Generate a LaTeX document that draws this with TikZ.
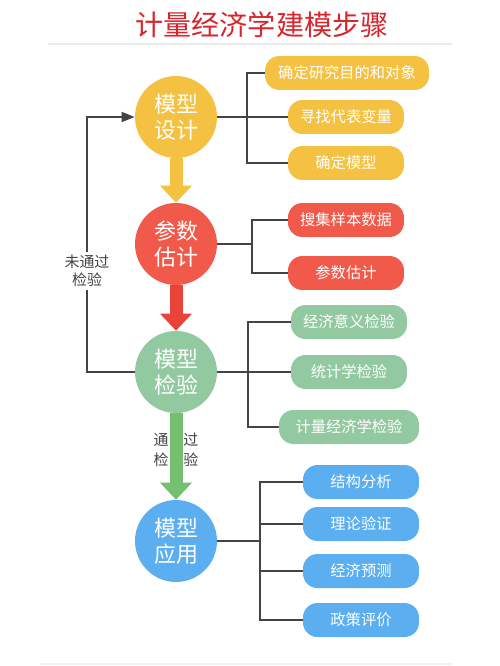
\documentclass[tikz,border=0pt]{standalone}
\usepackage{fontspec}
\setmainfont{Noto Sans CJK SC}
\usetikzlibrary{arrows.meta}

\definecolor{titlered}{HTML}{D8252C}
\definecolor{ylw}{HTML}{F4C143}
\definecolor{rd}{HTML}{F15A4B}
\definecolor{rdarrow}{HTML}{E9433A}
\definecolor{grn}{HTML}{93C9A0}
\definecolor{grnarrow}{HTML}{74BF70}
\definecolor{blu}{HTML}{5BAEEF}
\definecolor{linegray}{HTML}{444444}

\tikzset{
  elbow/.style={to path={|- (\tikztotarget)}},
  blockarrow/.style={line width=0.26cm,
    -{Triangle[length=0.34cm,width=0.64cm,line width=0pt]}},
}

\begin{document}
\begin{tikzpicture}[x=0.02cm,y=-0.02cm]
        \useasboundingbox (0,0) rectangle (500,666);

        \node[text=titlered, font=\fontsize{16}{18}\selectfont] (title) at (262,25) {计量经济学建模步骤};
        \draw[black!8, line width=1.2pt] (48,44) -- (452,44);
        \draw[black!5, line width=1.2pt] (40,664) -- (452,664);

        \begin{scope}[every node/.style={circle, minimum size=1.64cm, inner sep=0pt, text=white,
            align=center, font=\fontsize{12.5}{14.5}\selectfont}]
          \node[fill=ylw] (c1) at (176,117) {模型\\设计};
          \node[fill=rd]  (c2) at (176,244) {参数\\估计};
          \node[fill=grn] (c3) at (176,372) {模型\\检验};
          \node[fill=blu] (c4) at (176,541) {模型\\应用};
        \end{scope}

        \begin{scope}[every node/.style={rounded corners=2.9mm, minimum height=0.68cm, minimum width=2.32cm,
            inner sep=0pt, text=white, font=\fontsize{8.7}{10}\selectfont}]
          \node[fill=ylw, minimum width=3.28cm] (b11) at (347,73) {确定研究目的和对象};
          \node[fill=ylw] (b12) at (346,117) {寻找代表变量};
          \node[fill=ylw] (b13) at (346,163) {确定模型};
          \node[fill=rd]  (b21) at (346,220) {搜集样本数据};
          \node[fill=rd]  (b22) at (346,273) {参数估计};
          \node[fill=grn] (b31) at (349,322) {经济意义检验};
          \node[fill=grn] (b32) at (349,372) {统计学检验};
          \node[fill=grn, minimum width=2.8cm] (b33) at (349,427) {计量经济学检验};
          \node[fill=blu] (b41) at (361,482) {结构分析};
          \node[fill=blu] (b42) at (361,524) {理论验证};
          \node[fill=blu] (b43) at (361,571) {经济预测};
          \node[fill=blu] (b44) at (361,620) {政策评价};
        \end{scope}

        \coordinate (j1) at (247,117);
        \coordinate (j2) at (252,244);
        \coordinate (j3) at (248,372);
        \coordinate (j4) at (260,541);
        \coordinate (f1) at (87,372);
        \coordinate (f2) at (87,117);

        \begin{scope}[every edge/.style={draw, linegray, line width=0.7pt}]
          \path (c1)  edge (j1);
          \path (j1)  edge[elbow] (b11);
          \path (j1)  edge (b12);
          \path (j1)  edge[elbow] (b13);
          \path (c2)  edge (j2);
          \path (j2)  edge[elbow] (b21);
          \path (j2)  edge[elbow] (b22);
          \path (c3)  edge (j3);
          \path (j3)  edge[elbow] (b31);
          \path (j3)  edge (b32);
          \path (j3)  edge[elbow] (b33);
          \path (c4)  edge[line width=1.3pt] (j4);
          \path (j4)  edge[elbow] (b41);
          \path (j4)  edge[elbow] (b42);
          \path (j4)  edge[elbow] (b43);
          \path (j4)  edge[elbow] (b44);
        \end{scope}

        % feedback loop
        \draw[linegray, line width=0.9pt, -{Triangle[length=0.26cm,width=0.2cm]}]
          (c3) -- (f1) -- (f2) -- (c1);
        \node[fill=white, text=linegray, align=center, inner sep=2pt,
          font=\fontsize{8.5}{10.2}\selectfont] (fail) at (87,271) {未通过\\检验};
        \node[text=linegray, align=center, font=\fontsize{8.5}{11.3}\selectfont]
          (pass) at (176,450) {通\hspace{1em}过\\检\hspace{1em}验};

        \path (c1) edge[blockarrow, draw=ylw] (c2);
        \path (c2) edge[blockarrow, draw=rdarrow] (c3);
        \path (c3) edge[blockarrow, draw=grnarrow] (c4);

      \end{tikzpicture}
\end{document}
